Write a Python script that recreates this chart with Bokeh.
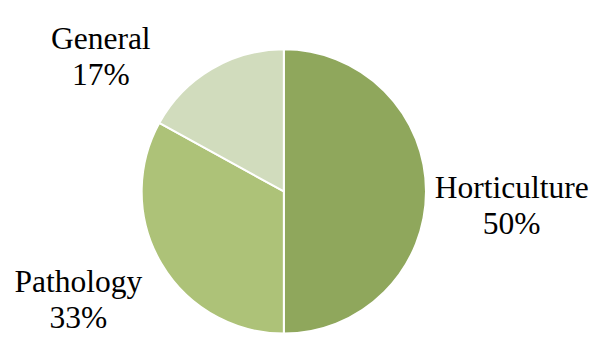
import numpy as np
from bokeh.plotting import figure
from bokeh.models import ColumnDataSource, Range1d
from bokeh.core.properties import value
from bokeh.embed import file_html
from bokeh.resources import INLINE

categories = ["Horticulture", "Pathology", "General"]
shares = [50, 33, 17]
colors = ["#8fa75c", "#adc278", "#d1dcbd"]

W, H = 591, 338
p = figure(width=W, height=H, output_backend="svg", toolbar_location=None,
           x_range=Range1d(0, 607), y_range=Range1d(0, 354), min_border=0)
p.axis.visible = False
p.grid.visible = False
p.outline_line_color = None

cx, cy, r = 291, 154, 146
vals = np.array(shares, dtype=float)
frac = vals / vals.sum()
cum = np.concatenate([[0], np.cumsum(frac)])
start = np.pi / 2 - cum[:-1] * 2 * np.pi
end = np.pi / 2 - cum[1:] * 2 * np.pi

src = ColumnDataSource(dict(start=start, end=end, color=colors, cat=categories))
p.wedge(x=cx, y=cy, radius=r, start_angle="start", end_angle="end", direction="clock",
        fill_color="color", line_color="white", line_width=2, source=src)

# label anchor positions (layout)
label_x = [525, 80, 103]
label_y = [158, 60, 314]
line_gap = 38
tx, ty, tt = [], [], []
for c, s, x, y in zip(categories, shares, label_x, label_y):
    tx += [x, x]
    ty += [y, y - line_gap]
    tt += [c, f"{s}%"]
p.text(x=tx, y=ty, text=tt, text_font=value("Liberation Serif"), text_font_size="31.5px",
       text_align="center", text_baseline="alphabetic", text_color="#000000")

open("out.html", "w").write(file_html(p, INLINE))
